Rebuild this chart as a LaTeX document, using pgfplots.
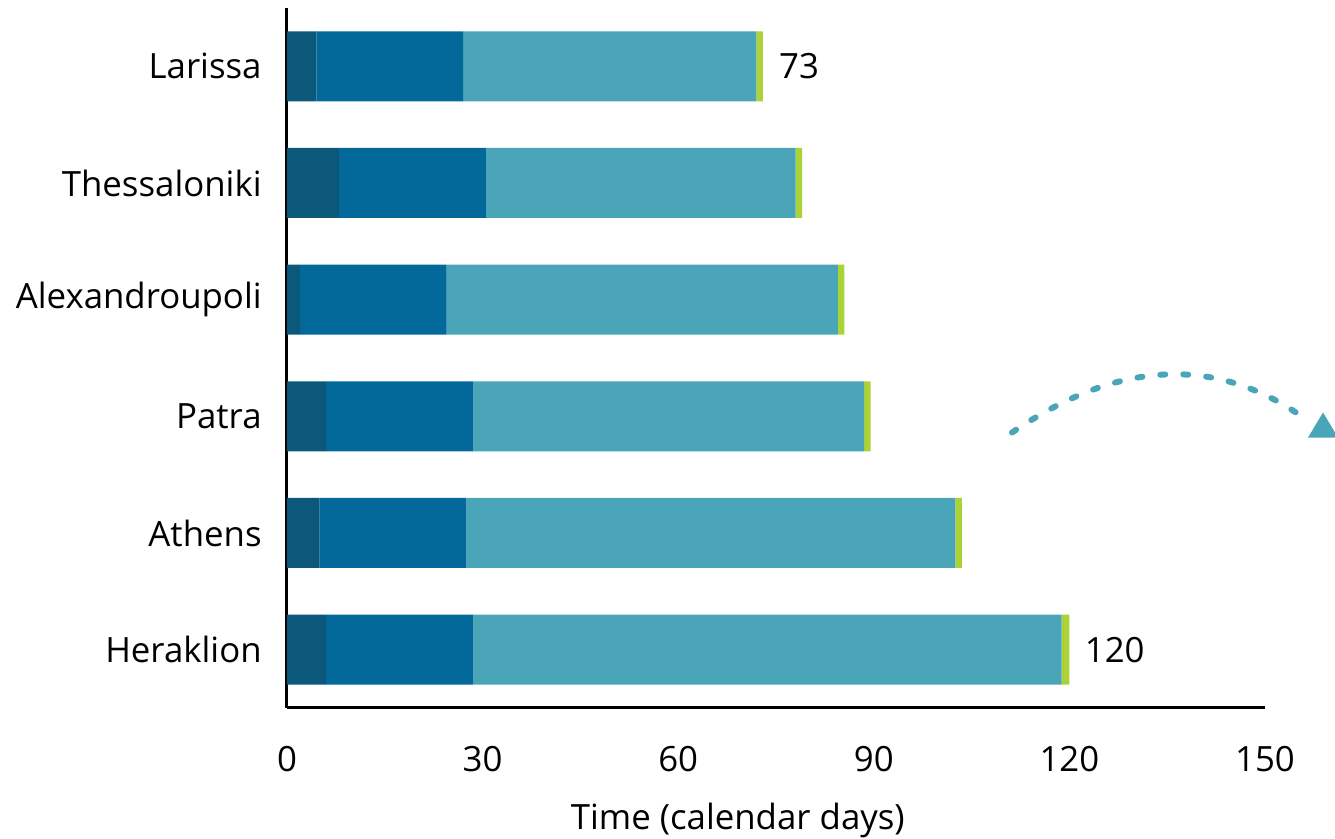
\documentclass[border=0pt]{standalone}
\usepackage{fontspec}
\setmainfont{Open Sans}
\usepackage{pgfplots}
\pgfplotsset{compat=1.18}
\usetikzlibrary{calc}

\definecolor{phaseA}{HTML}{0B587A}
\definecolor{phaseB}{HTML}{02699A}
\definecolor{phaseC}{HTML}{4BA5B8}
\definecolor{phaseD}{HTML}{ABD337}

\newcommand{\chartfont}{\fontsize{17.4}{20}\selectfont}

\begin{document}
\begin{tikzpicture}[font=\chartfont]
\begin{axis}[
  width=489pt, height=350pt, scale only axis,
  xbar stacked, bar width=35pt,
  xmin=0, xmax=150, ymin=-0.5, ymax=5.5,
  axis x line*=bottom, axis y line*=left,
  axis line style={line width=1.5pt, -},
  xtick={0,30,...,150}, ytick={0,...,5},
  yticklabels={Heraklion,Athens,Patra,Alexandroupoli,Thessaloniki,Larissa},
  major tick length=0pt,
  tick style={draw=none},
  /pgf/number format/assume math mode=true,
  ticklabel style={font=\chartfont},
  xticklabel style={inner sep=0pt, anchor=north, yshift=-19pt},
  yticklabel style={inner sep=0pt, anchor=east, xshift=-12.5pt},
  xlabel={Time (calendar days)},
  xlabel style={font=\chartfont, at={(axis description cs:0.461,0)}, anchor=north, inner sep=0pt, yshift=-47.5pt},
  clip=false,
]
% phases of each case, in calendar days
\addplot[fill=phaseA, draw=none] coordinates {(6,0) (5,1) (6,2) (2,3) (8,4) (4.5,5)};
\addplot[fill=phaseB, draw=none] coordinates {(22.5,0) (22.5,1) (22.5,2) (22.5,3) (22.5,4) (22.5,5)};
\addplot[fill=phaseC, draw=none] coordinates {(90.3,0) (75,1) (60,2) (60,3) (47.5,4) (45,5)};
% last phase, with the total written after the longest and shortest bars
\addplot[fill=phaseD, draw=none,
  nodes near coords, point meta=explicit symbolic,
  nodes near coords style={font=\chartfont, text=black, anchor=west, inner sep=0pt, xshift=9.5pt}]
  coordinates {(1.2,0) [120] (1,1) [{}] (1,2) [{}] (1,3) [{}] (1,4) [{}] (1,5) [73]};

\coordinate (SW) at (rel axis cs:0,0);
\coordinate (NE) at (rel axis cs:1,1);

% dashed arrow leaving the chart on the right
\draw[overlay, phaseC, line width=3pt, line cap=round, dash pattern=on 2.5pt off 9pt]
  (axis cs:111.2,1.861) .. controls (axis cs:127.5,2.485) and (axis cs:142.5,2.524) .. (axis cs:156.1,1.981);
\fill[overlay, phaseC] (axis cs:156.6,1.818) -- (axis cs:158.9,2.033) -- (axis cs:161.2,1.818) -- cycle;
\end{axis}
\pgfresetboundingbox
\path[use as bounding box] ($(SW)+(-143.5pt,-65.5pt)$) rectangle ($(NE)+(35pt,4pt)$);
\end{tikzpicture}
\end{document}
